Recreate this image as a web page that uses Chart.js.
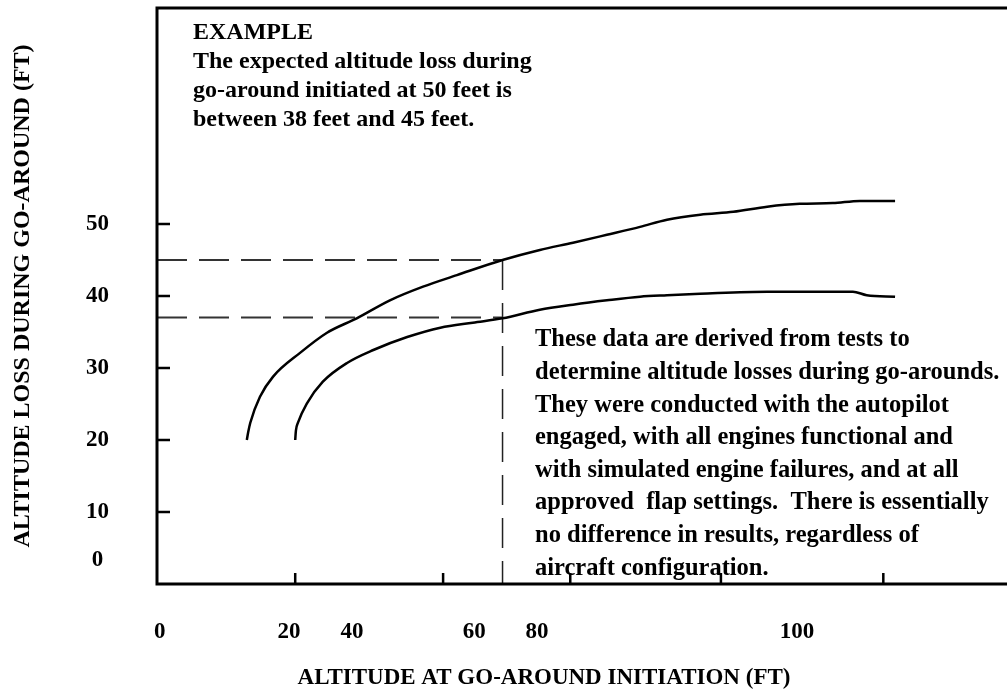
<!DOCTYPE html>
<html>
<head>
<meta charset="utf-8">
<script src="https://cdn.jsdelivr.net/npm/chart.js@4/dist/chart.umd.min.js"></script>
<style>
  html, body { margin: 0; padding: 0; background: #fff; }
  canvas { display: block; }
</style>
</head>
<body>
<canvas id="chart" width="1007" height="692"></canvas>
<script>
// upper curve: altitude at go-around initiation (ft) vs altitude loss (ft)
const upperX = [13.0, 13.2, 13.5, 14.9, 16.8, 20.7, 24.6, 28.9, 33.7, 38.5, 43.4, 50.0, 55.4, 60.2, 65.1, 69.9, 73.8, 78.6, 83.4, 88.3, 93.0, 97.8, 101.7, 106.8];
const upperY = [20.0, 21.1, 22.4, 26.0, 28.8, 32.1, 34.9, 36.9, 39.4, 41.3, 42.9, 45.0, 46.4, 47.4, 48.5, 49.6, 50.6, 51.3, 51.7, 52.4, 52.8, 52.9, 53.2, 53.2];

// lower curve
const lowerX = [20.0, 20.1, 20.4, 21.7, 24.0, 27.5, 31.3, 36.2, 41.0, 45.7, 50.0, 55.4, 60.2, 65.1, 69.9, 73.8, 78.6, 88.3, 100.7, 102.7, 106.8];
const lowerY = [20.0, 21.3, 22.4, 25.1, 28.1, 30.7, 32.5, 34.3, 35.6, 36.3, 36.9, 38.1, 38.8, 39.4, 39.9, 40.1, 40.3, 40.6, 40.6, 40.1, 39.9];

// example reading
const readAt = 50;
const readHigh = 45;
const readLow = 37;

// axis labels as printed (label spots do not line up with the marks)
const xTickLabels = ['0', '20', '40', '60', '80', '100'];
const xTickPos = [0.4, 19.1, 28.2, 45.9, 55.0, 92.6];
const xTickMarks = [20, 41.4, 59.8, 81.6, 105.1];
const yTickLabels = ['0', '10', '20', '30', '40', '50'];
const yTickPos = [3.3, 10, 20, 30, 40, 50];
const yTickMarks = [10, 20, 30, 40, 50];

const exampleLines = [
  'EXAMPLE',
  'The expected altitude loss during',
  'go-around initiated at 50 feet is',
  'between 38 feet and 45 feet.'
];
const noteLines = [
  'These data are derived from tests to',
  'determine altitude losses during go-arounds.',
  'They were conducted with the autopilot',
  'engaged, with all engines functional and',
  'with simulated engine failures, and at all',
  'approved  flap settings.  There is essentially',
  'no difference in results, regardless of',
  'aircraft configuration.'
];

const serif = '"Liberation Serif", "Times New Roman", serif';
Chart.defaults.font.family = serif;
Chart.defaults.color = '#000';

function pts(xs, ys) {
  return xs.map((x, i) => ({ x: x, y: ys[i] }));
}

// keep the label padding from pushing the plot area in
function noEdgePadding(s) {
  s.paddingTop = 0;
  s.paddingBottom = 0;
  s.paddingLeft = 0;
  s.paddingRight = 0;
}

const frameAndNotes = {
  id: 'frameAndNotes',
  afterDraw(chart) {
    const ctx = chart.ctx;
    const a = chart.chartArea;
    const x = chart.scales.x;
    const y = chart.scales.y;
    const right = chart.width;
    ctx.save();
    ctx.strokeStyle = '#000';
    ctx.lineWidth = 3;
    ctx.beginPath();
    ctx.moveTo(right, a.top);
    ctx.lineTo(a.left, a.top);
    ctx.lineTo(a.left, a.bottom);
    ctx.lineTo(right, a.bottom);
    ctx.stroke();

    // inner tick marks
    ctx.lineWidth = 2.5;
    ctx.beginPath();
    yTickMarks.forEach(v => {
      const p = y.getPixelForValue(v);
      ctx.moveTo(a.left, p);
      ctx.lineTo(a.left + 13, p);
    });
    xTickMarks.forEach(v => {
      const p = x.getPixelForValue(v);
      ctx.moveTo(p, a.bottom);
      ctx.lineTo(p, a.bottom - 11);
    });
    ctx.stroke();

    ctx.fillStyle = '#000';
    ctx.font = 'bold 24px ' + serif;
    ctx.textBaseline = 'middle';
    exampleLines.forEach((t, i) => ctx.fillText(t, 193, 33 + i * 29));
    ctx.font = 'bold 24.5px ' + serif;
    noteLines.forEach((t, i) => ctx.fillText(t, 535, 340 + i * 32.6));
    ctx.restore();
  }
};

new Chart(document.getElementById('chart'), {
  type: 'line',
  data: {
    datasets: [
      {
        data: pts(upperX, upperY),
        borderColor: '#000',
        borderWidth: 2.5,
        pointRadius: 0,
        cubicInterpolationMode: 'monotone'
      },
      {
        data: pts(lowerX, lowerY),
        borderColor: '#000',
        borderWidth: 2.5,
        pointRadius: 0,
        cubicInterpolationMode: 'monotone'
      },
      {
        data: [{ x: 0, y: readHigh }, { x: readAt, y: readHigh }],
        borderColor: '#333',
        borderWidth: 2,
        borderDash: [30, 12],
        pointRadius: 0
      },
      {
        data: [{ x: 0, y: readLow }, { x: readAt, y: readLow }],
        borderColor: '#333',
        borderWidth: 2,
        borderDash: [30, 12],
        pointRadius: 0
      },
      {
        data: [{ x: readAt, y: readHigh }, { x: readAt, y: 0 }],
        borderColor: '#222',
        borderWidth: 1.5,
        borderDash: [30, 13],
        pointRadius: 0
      }
    ]
  },
  options: {
    responsive: false,
    animation: false,
    layout: { padding: { top: 8, right: 76, bottom: 0, left: 0 } },
    plugins: {
      legend: { display: false },
      tooltip: { enabled: false }
    },
    scales: {
      x: {
        type: 'linear',
        min: 0,
        max: 112,
        grid: { display: false, drawTicks: false },
        border: { display: false },
        ticks: {
          autoSkip: false,
          maxRotation: 0,
          padding: 34,
          color: '#000',
          font: { size: 23, weight: 'bold' },
          callback: (v, i) => xTickLabels[i]
        },
        afterBuildTicks: s => { s.ticks = xTickPos.map(v => ({ value: v })); },
        afterFit: s => { s.height = 108; noEdgePadding(s); },
        title: {
          display: true,
          text: 'ALTITUDE AT GO-AROUND INITIATION (FT)',
          color: '#000',
          font: { size: 23, weight: 'bold' },
          padding: { top: 0, bottom: 0 }
        }
      },
      y: {
        type: 'linear',
        min: 0,
        max: 80,
        grid: { display: false, drawTicks: false },
        border: { display: false },
        ticks: {
          autoSkip: false,
          padding: 48,
          crossAlign: 'center',
          color: '#000',
          font: { size: 23, weight: 'bold' },
          callback: (v, i) => yTickLabels[i]
        },
        afterBuildTicks: s => { s.ticks = yTickPos.map(v => ({ value: v })); },
        afterFit: s => { s.width = 157; noEdgePadding(s); },
        title: {
          display: true,
          text: 'ALTITUDE LOSS DURING GO-AROUND (FT)',
          color: '#000',
          font: { size: 24, weight: 'bold' },
          padding: { top: 8, bottom: 0 }
        }
      }
    }
  },
  plugins: [frameAndNotes]
});
</script>
</body>
</html>
